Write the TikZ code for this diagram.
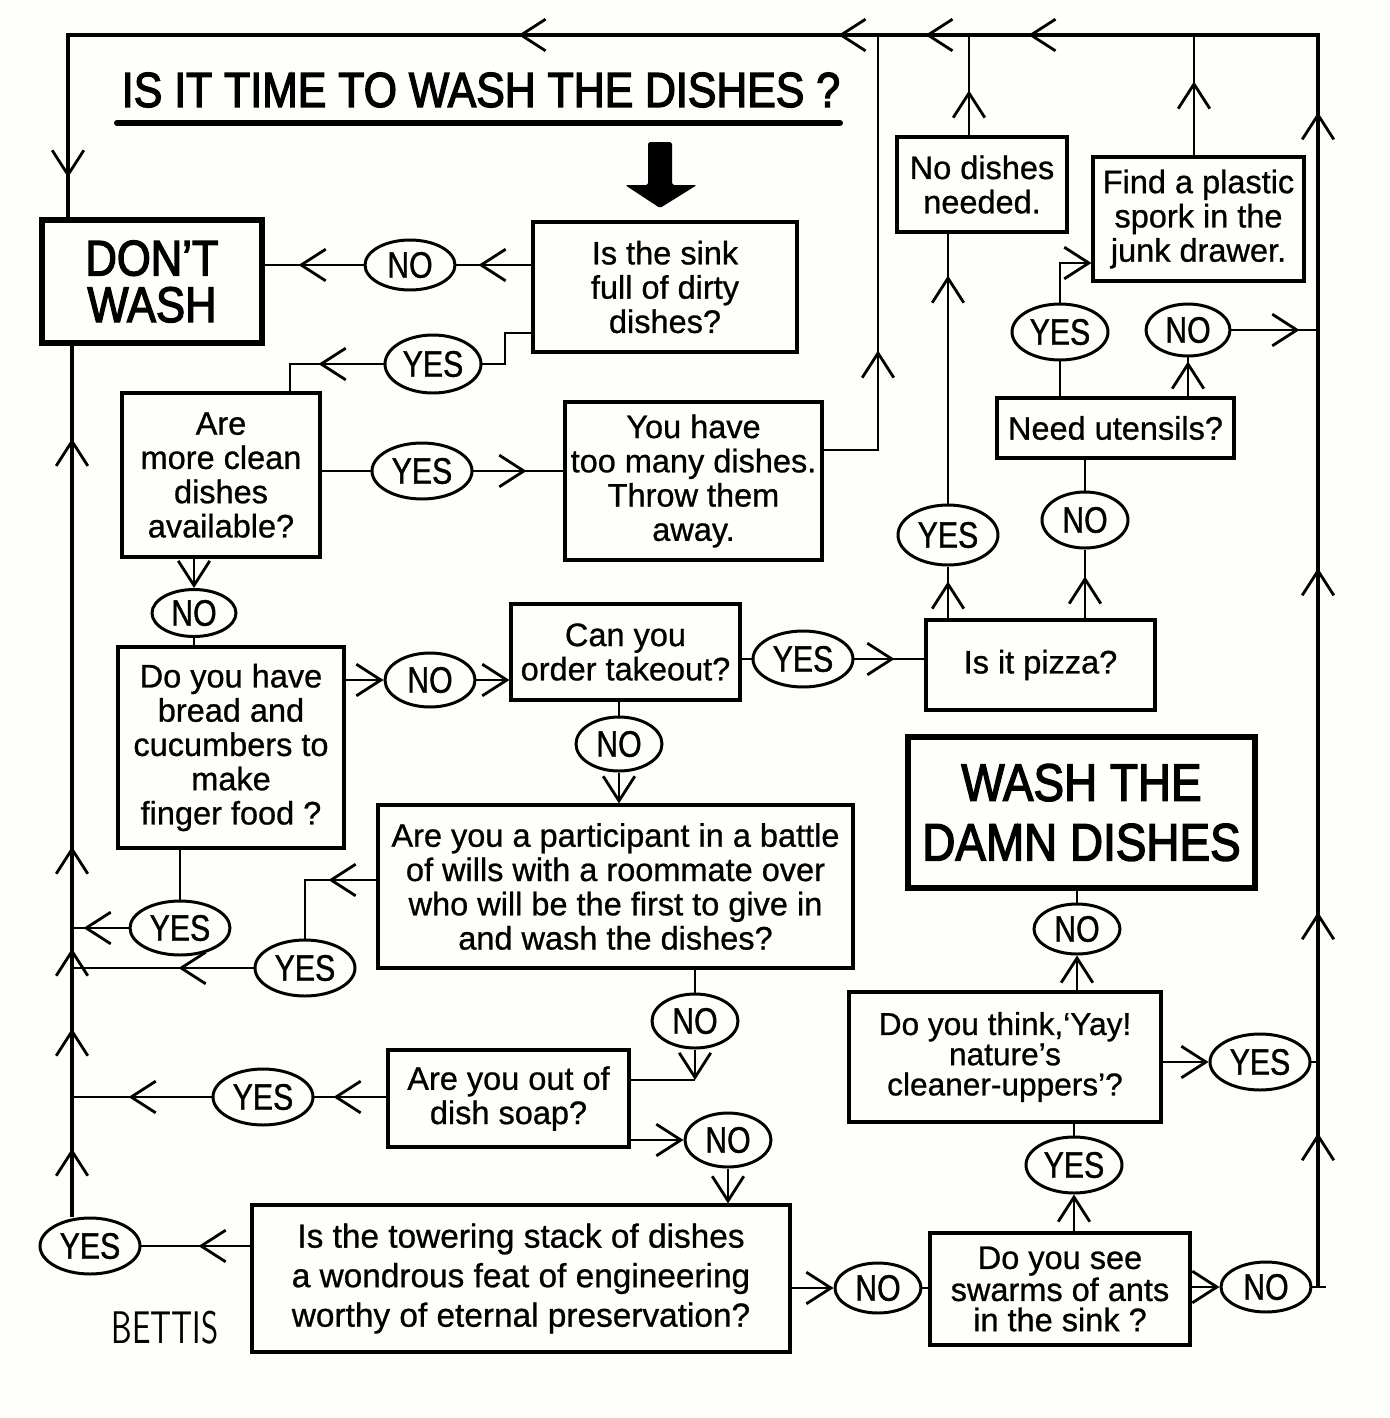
\documentclass[tikz,border=0pt]{standalone}
\usepackage{fontspec}
\setmainfont[FakeBold=0.8]{Liberation Sans}
\newfontfamily\condfont[FakeStretch=0.87,FakeBold=2.6]{Liberation Sans}
\newfontfamily\labfont[FakeStretch=0.82,FakeBold=1.0]{Liberation Sans}
\usetikzlibrary{arrows.meta,shapes.geometric,decorations.markings}
\definecolor{bg}{RGB}{254,254,250}
\tikzset{
  chev/.tip={Straight Barb[length=14pt,width=18pt,line width=1.6pt]},
  conn/.style={line width=1.6pt},
  frameline/.style={line width=2.2pt},
  midarr/.style={postaction={decorate,decoration={markings,mark=at position #1 with {\arrow{chev}}}}},
  box/.style={draw,line width=1.8pt,rectangle,align=center,inner sep=0pt,font=\fontsize{18.5}{19.5}\selectfont},
  bigbox/.style={box,line width=3.6pt},
  lab/.style={draw,ellipse,line width=1.7pt,inner sep=0pt,font=\labfont\fontsize{21}{22}\selectfont},
}
\begin{document}
\begin{tikzpicture}[x=0.02cm,y=-0.02cm]
\fill[bg] (0,0) rectangle (1390,1418);
\useasboundingbox (0,0) rectangle (1390,1418);

% coordinates
\coordinate (TL) at (68,35);
\coordinate (TR) at (1318,35);
\coordinate (RB) at (1318,1287);
\coordinate (xl2) at (72,0);
\coordinate (xR2) at (1326,0);
\coordinate (j878) at (878,35);
\coordinate (j969) at (969,35);
\coordinate (j1194) at (1194,35);
\coordinate (c290) at (290,0);
\coordinate (jsoap) at (695,1080);

% title
\node[font=\condfont\fontsize{28}{30}\selectfont] (title) at (481,90) {IS IT TIME TO WASH THE DISHES ?};
\draw[line width=3.4pt,line cap=round] (117,123) -- (840,123);
\fill[rounded corners=1pt] (648,142) -- (672,142) -- (672,185) -- (697,185) -- (660,208) -- (625,185) -- (648,185) -- cycle;

% boxes
\node[box,minimum width=5.28cm,minimum height=2.6cm] (sink) at (665,287) {Is the sink\\full of dirty\\dishes?};
\node[bigbox,font=\condfont\fontsize{28.5}{26.5}\selectfont,minimum width=4.4cm,minimum height=2.46cm] (dont) at (152,281.5) {DON’T\\WASH};
\node[box,minimum width=3.96cm,minimum height=3.28cm] (clean) at (221,475) {Are\\more clean\\dishes\\available?};
\node[box,minimum width=5.14cm,minimum height=3.16cm] (toomany) at (693.5,481) {You have\\too many dishes.\\Throw them\\away.};
\node[box,minimum width=4.52cm,minimum height=4.02cm] (bread) at (231,747.5) {Do you have\\bread and\\cucumbers to\\make\\finger food ?};
\node[box,minimum width=4.58cm,minimum height=1.92cm] (takeout) at (625.5,652) {Can you\\order takeout?};
\node[box,minimum width=4.58cm,minimum height=1.8cm] (pizza) at (1040.5,665) {Is it pizza?};
\node[box,minimum width=3.4cm,minimum height=1.9cm] (nodish) at (982,184.5) {No dishes\\needed.};
\node[box,minimum width=4.74cm,minimum height=1.2cm] (utensils) at (1115.5,428) {Need utensils?};
\node[box,minimum width=4.22cm,minimum height=2.48cm] (spork) at (1198.5,219) {Find a plastic\\spork in the\\junk drawer.};
\node[box,minimum width=9.5cm,minimum height=3.26cm] (battle) at (615.5,886.5) {Are you a participant in a battle\\of wills with a roommate over\\who will be the first to give in\\and wash the dishes?};
\node[box,minimum width=4.82cm,minimum height=1.94cm] (soap) at (508.5,1098.5) {Are you out of\\dish soap?};
\node[box,font=\fontsize{19}{22.5}\selectfont,minimum width=10.76cm,minimum height=2.94cm] (tower) at (521,1278.5) {Is the towering stack of dishes\\a wondrous feat of engineering\\worthy of eternal preservation?};
\node[box,font=\fontsize{18.5}{17.2}\selectfont,minimum width=5.2cm,minimum height=2.24cm] (ants) at (1060,1289) {Do you see\\swarms of ants\\in the sink ?};
\node[box,font=\fontsize{18}{17.2}\selectfont,minimum width=6.24cm,minimum height=2.6cm] (yay) at (1005,1057) {Do you think,‘Yay!\\nature’s\\cleaner-uppers’?};
\node[bigbox,font=\condfont\fontsize{30}{34}\selectfont,minimum width=6.94cm,minimum height=3.02cm] (wash) at (1081.5,812.5) {WASH THE\\DAMN DISHES};

% labels
\node[lab,minimum width=1.8cm,minimum height=1.0cm] (e1) at (410,265) {NO};
\node[lab,minimum width=1.92cm,minimum height=1.16cm] (e2) at (433,364) {YES};
\node[lab,minimum width=2.0cm,minimum height=1.12cm] (e3) at (422,471) {YES};
\node[lab,minimum width=1.68cm,minimum height=0.94cm] (e4) at (194,613) {NO};
\node[lab,minimum width=1.8cm,minimum height=1.08cm] (e5) at (430,680) {NO};
\node[lab,minimum width=2.0cm,minimum height=1.08cm] (e6) at (180,928) {YES};
\node[lab,minimum width=2.0cm,minimum height=1.12cm] (e7) at (803,659) {YES};
\node[lab,minimum width=1.72cm,minimum height=1.08cm] (e8) at (619,744) {NO};
\node[lab,minimum width=2.0cm,minimum height=1.2cm] (e9) at (948,535) {YES};
\node[lab,minimum width=1.72cm,minimum height=1.12cm] (e10) at (1085,520) {NO};
\node[lab,minimum width=1.92cm,minimum height=1.12cm] (e11) at (1060,332) {YES};
\node[lab,minimum width=1.68cm,minimum height=1.04cm] (e12) at (1188,330) {NO};
\node[lab,minimum width=2.0cm,minimum height=1.12cm] (e13) at (305,968) {YES};
\node[lab,minimum width=1.72cm,minimum height=1.08cm] (e14) at (695,1021) {NO};
\node[lab,minimum width=2.0cm,minimum height=1.12cm] (e15) at (263,1097) {YES};
\node[lab,minimum width=1.72cm,minimum height=1.08cm] (e16) at (728,1140) {NO};
\node[lab,minimum width=2.0cm,minimum height=1.12cm] (e17) at (90,1246) {YES};
\node[lab,minimum width=1.72cm,minimum height=1.0cm] (e18) at (878,1288) {NO};
\node[lab,minimum width=1.92cm,minimum height=1.12cm] (e19) at (1074,1165) {YES};
\node[lab,minimum width=1.8cm,minimum height=1.0cm] (e20) at (1266,1287) {NO};
\node[lab,minimum width=1.72cm,minimum height=1.0cm] (e21) at (1077,929) {NO};
\node[lab,minimum width=2.0cm,minimum height=1.12cm] (e22) at (1260,1062) {YES};

% signature
\node[font=\sffamily\fontsize{26}{26}\selectfont] (sig) at (165,1328) {\scalebox{0.72}[1]{BETTIS}};

% frame lines
\draw[frameline, midarr=3.08cm, midarr=7.5cm, midarr=14.38cm, midarr=23.5cm, midarr=30.84cm, midarr=32.9cm, midarr=34.64cm, midarr=41.04cm, midarr=52.9cm] (RB) -- (TR) -- (TL) -- (dont.north -| TL);
\draw[frameline, midarr=1.36cm, midarr=3.76cm, midarr=5.36cm, midarr=7.4cm, midarr=15.56cm] (e17.north -| xl2) -- (dont.south -| xl2);

% connectors
\draw[conn,midarr=1.06cm] (sink.west |- e1) -- (e1);
\draw[conn,midarr=1.3cm] (e1) -- (dont.east |- e1);
\draw[conn] ([yshift=-0.92cm]sink.west) -| (505,364) -- (e2);
\draw[conn,midarr=1.3cm] (e2) -| (clean.north -| c290);
\draw[conn] (clean.east |- e3) -- (e3);
\draw[conn,midarr=1.06cm] (e3) -- (toomany.west |- e3);
\draw[conn,midarr=3.08cm] ([yshift=0.62cm]toomany.east) -| (j878);
\draw[conn,-chev] (clean.south -| e4) -- (e4);
\draw[conn] (e4) -- (bread.north -| e4);
\draw[conn,-chev] (bread.east |- e5) -- (e5);
\draw[conn,-chev] (e5) -- (takeout.west |- e5);
\draw[conn] (bread.south -| e6) -- (e6);
\draw[conn,midarr=0.9cm] (e6) -- (e6 -| xl2);
\draw[conn] (takeout.east |- e7) -- (e7);
\draw[conn,midarr=0.8cm] (e7) -- (pizza.west |- e7);
\draw[conn] (takeout.south -| e8) -- (e8);
\draw[conn,-chev] (e8) -- (battle.north -| e8);
\draw[conn,midarr=0.74cm] (pizza.north -| e9) -- (e9);
\draw[conn,midarr=4.56cm] (e9) -- (nodish.south -| e9);
\draw[conn,midarr=0.9cm] (nodish.north -| j969) -- (j969);
\draw[conn,midarr=0.84cm] (pizza.north -| e10) -- (e10);
\draw[conn] (e10) -- (utensils.south -| e10);
\draw[conn] (utensils.north -| e11) -- (e11);
\draw[conn,-chev] (e11) |- ([yshift=-0.88cm]spork.west);
\draw[conn,midarr=0.7cm] (utensils.north -| e12) -- (e12);
\draw[conn,midarr=1.36cm] (e12) -- (e12 -| TR);
\draw[conn,midarr=1.48cm] (spork.north -| j1194) -- (j1194);
\draw[conn,midarr=0.96cm] ([yshift=0.13cm]battle.west) -| (e13);
\draw[conn,midarr=1.5cm] (e13) -- (e13 -| xl2);
\draw[conn] (battle.south -| e14) -- (e14);
\draw[conn,-chev] (e14) -- (jsoap);
\draw[conn] (soap.east |- jsoap) -- (jsoap);
\draw[conn,midarr=1.06cm] (soap.west |- e15) -- (e15);
\draw[conn,midarr=1.66cm] (e15) -- (e15 -| xl2);
\draw[conn,-chev] (soap.east |- e16) -- (e16);
\draw[conn,-chev] (e16) -- (tower.north -| e16);
\draw[conn,midarr=1.04cm] (tower.west |- e17) -- (e17);
\draw[conn,-chev] (tower.east |- e18) -- (e18);
\draw[conn] (e18) -- (ants.west |- e18);
\draw[conn,-chev] (ants.north -| e19) -- (e19);
\draw[conn] (e19) -- (yay.south -| e19);
\draw[conn,-chev] (ants.east |- e20) -- (e20);
\draw[conn] (e20) -- (e20 -| xR2);
\draw[conn,-chev] (yay.north -| e21) -- (e21);
\draw[conn] (e21) -- (wash.south -| e21);
\draw[conn,-chev] (yay.east |- e22) -- (e22);
\draw[conn] (e22) -- (e22 -| TR);
\end{tikzpicture}
\end{document}
